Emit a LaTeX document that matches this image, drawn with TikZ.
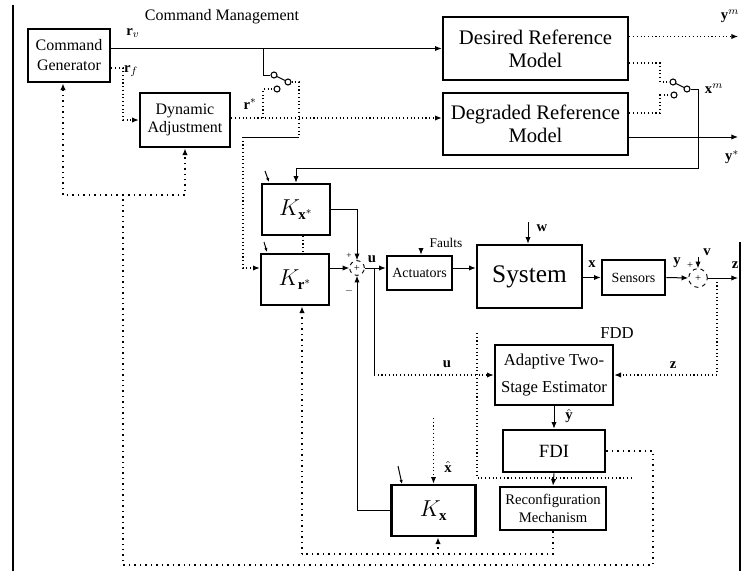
\documentclass[tikz,border=0pt]{standalone}
\usepackage{fontspec}
\setmainfont{Liberation Serif}
\usetikzlibrary{arrows.meta,calc}
\begin{document}
\begin{tikzpicture}[x=0.75pt,y=-0.75pt,
  box/.style={draw, line width=2pt, inner sep=1pt, align=center},
  ln/.style={line width=0.75pt},
  arr/.style={ln, -{Latex[length=5pt,width=4pt]}},
  dot/.style={line width=0.8pt, dotted},
  darr/.style={dot, -{Latex[length=5pt,width=4pt]}},
  bigdot/.style={line width=1.1pt, dash pattern=on 1.1pt off 3pt},
  bdarr/.style={bigdot, -{Latex[length=5pt,width=4pt]}},
  tiparr/.style={ln, -{Latex[length=3pt,width=2.5pt]}},
  sumc/.style={draw, circle, dashed, line width=0.7pt, inner sep=0pt, font=\fontsize{8}{8}\selectfont},
  lab/.style={font=\fontsize{11}{12}\selectfont\bfseries, inner sep=0pt},
  contact/.style={draw, circle, line width=0.8pt, minimum size=4.5pt, inner sep=0pt},
]
\useasboundingbox (0,0) rectangle (742,571);
\fill[white] (0,0) rectangle (742,571);

% frame pieces
\draw[line width=1.2pt] (13,5) -- (13,571);
\draw[line width=1.2pt] (740,242) -- (740,571);

% boxes
\node[box, minimum width=61.5pt, minimum height=39.75pt, font=\fontsize{12}{15}\selectfont] (cg) at (69,55.5) {Command\\Generator};
\node[box, minimum width=67.5pt, minimum height=40.5pt, font=\fontsize{12}{13}\selectfont] (da) at (185,120) {Dynamic\\Adjustment};
\node[box, minimum width=138.75pt, minimum height=47.25pt, font=\fontsize{15.5}{17}\selectfont] (drm) at (535.5,48.5) {Desired Reference\\Model};
\node[box, minimum width=138.75pt, minimum height=46.5pt, font=\fontsize{15.5}{17}\selectfont] (grm) at (535.5,124) {Degraded Reference\\Model};
\node[box, minimum width=51pt, minimum height=38.25pt, font=\fontsize{16}{17}\selectfont] (kxs) at (296,209.5) {$K_{\mathbf{x}^*}$};
\node[box, minimum width=51pt, minimum height=38.25pt, font=\fontsize{16}{17}\selectfont] (krs) at (295,279.5) {$K_{\mathbf{r}^*}$};
\node[box, minimum width=48.75pt, minimum height=25.5pt, font=\fontsize{10.5}{12}\selectfont] (act) at (419.5,273) {Actuators};
\node[box, minimum width=78.75pt, minimum height=47.25pt, font=\fontsize{19}{20}\selectfont] (sys) at (529.5,276.5) {System};
\node[box, minimum width=47.25pt, minimum height=26.25pt, font=\fontsize{10.5}{12}\selectfont] (sen) at (633.5,277.5) {Sensors};
\node[box, minimum width=88.5pt, minimum height=45pt, font=\fontsize{12.5}{20}\selectfont] (est) at (554,375) {Adaptive Two-\\Stage Estimator};
\node[box, minimum width=76.5pt, minimum height=31.5pt, font=\fontsize{14}{15}\selectfont] (fdi) at (554,451) {FDI};
\node[box, minimum width=79.5pt, minimum height=32.25pt, font=\fontsize{11}{13.5}\selectfont] (rec) at (553,508.5) {Reconfiguration\\Mechanism};
\node[box, minimum width=63pt, minimum height=38.25pt, font=\fontsize{16}{17}\selectfont] (kx) at (433.5,510.5) {$K_{\mathbf{x}}$};

% summing junctions
\node[sumc, minimum size=11pt] (s1) at (357,268) {+};
\node[sumc, minimum size=14pt] (s2) at (698,278) {+};

% switch contacts
\node[contact] (c1a) at (274,75) {};
\node[contact] (c1b) at (277,89) {};
\node[contact] (c1p) at (288,82) {};
\node[contact] (c2a) at (673,82) {};
\node[contact] (c2b) at (674,95) {};
\node[contact] (c2p) at (687,89) {};

% labels
\node[font=\fontsize{12}{13}\selectfont, inner sep=0pt] (cm) at (222,17) {Command Management};
\node[lab] (lrv) at (133,33) {$\mathbf{r}_{v}$};
\node[lab] (lrf) at (131,71) {$\mathbf{r}_{f}$};
\node[lab] (lrs) at (250,104) {$\mathbf{r}^{*}$};
\node[lab] (lym) at (730,16) {$\mathbf{y}^{m}$};
\node[lab] (lxm) at (714,89) {$\mathbf{x}^{m}$};
\node[lab] (lys) at (732,157) {$\mathbf{y}^{*}$};
\node[lab] (lu1) at (372,259) {$\mathbf{u}$};
\node[lab] (lu2) at (447,364) {$\mathbf{u}$};
\node[font=\fontsize{10}{11}\selectfont, inner sep=0pt] (lf) at (446,243) {Faults};
\node[lab] (lw) at (542,228) {$\mathbf{w}$};
\node[lab] (lx) at (592,264) {$\mathbf{x}$};
\node[lab] (ly) at (677,263) {$\mathbf{y}$};
\node[lab] (lv) at (707,252) {$\mathbf{v}$};
\node[font=\fontsize{8}{8}\selectfont, inner sep=0pt] (lp2) at (690,265) {+};
\node[lab] (lz1) at (735,265) {$\mathbf{z}$};
\node[lab] (lz2) at (673,365) {$\mathbf{z}$};
\node[font=\fontsize{12.5}{13}\selectfont, inner sep=0pt] (lfdd) at (617,333) {FDD};
\node[lab] (lyh) at (569,416) {$\hat{\mathbf{y}}$};
\node[lab] (lxh) at (448,467) {$\hat{\mathbf{x}}$};
\node[font=\fontsize{7}{7}\selectfont, inner sep=0pt] (lp1) at (349,256) {+};
\node[font=\fontsize{7}{7}\selectfont, inner sep=0pt] (lm1) at (349,291) {$-$};

% command management
\draw[arr] (cg.east |- drm.west) -- (drm.west);
\draw[darr] ($(cg.east)+(0,12.5)$) -- (123,68) -- (123,120) -- (da.west);
\draw[darr] ($(da.east)+(0,-2)$) -- ($(grm.west)+(0,-6)$);

% switch 1
\draw[ln] (263,48.5) -- (263,75) -- (c1a);
\draw[dot] (263,118) -- (263,89) -- (c1b);
\draw[ln] (c1p) -- (c1a);
\draw[dot] (c1p) -- (299,82) -- (299,137);
\draw[ln] (299,137) -- (243,137);
\draw[darr] (243,137) -- (243,268) -- ($(krs.west)+(0,-11.5)$);

% switch 2 and reference model outputs
\draw[dot] ($(drm.east)+(0,14.5)$) -- (660,63) -- (660,82) -- (c2a);
\draw[dot] ($(grm.east)+(0,-11)$) -- (660,113) -- (660,95) -- (c2b);
\draw[ln] (c2p) -- (c2a);
\draw[arr] (c2p) -- (698,89) -- (698,168) -- (kxs.north |- 0,168) -- (kxs.north);
\draw[darr] ($(drm.east)+(0,-12)$) -- (738,36.5);
\draw[arr] ($(grm.east)+(0,13)$) -- (738,137);

% controller
\draw[arr] (kxs.east) -- (s1 |- kxs.east) -- (s1.north);
\draw[arr] ($(krs.east)+(0,-11.5)$) -- (s1.west);
\draw[arr] (kx.west) -- (s1 |- kx.west) -- (s1.south);
\draw[arr] (s1.east) -- (act.west |- s1);
\draw[ln] (374,268) -- (374,375);
\draw[darr] (374,375) -- (est.west);
\draw[tiparr] (265,171) -- (269,182);
\draw[tiparr] (264,242) -- (267,252);
\draw[tiparr] (398,466) -- (402,484);
\draw[dot] (303,236) -- (303,253);

% plant
\draw[arr] (act.east |- s1) -- (sys.west |- s1);
\draw[arr] (sys.east |- sen.west) -- (sen.west);
\draw[arr] (sen.east) -- (s2.west);
\draw[arr] (s2.east) -- (738,278);
\draw[arr] (698,257) -- (s2.north);
\draw[arr] (528,222) -- (sys.north -| 528,0);
\draw[arr] (421,249) -- (act.north -| 421,0);
\draw[darr] (717,278) -- (717,375) -- (est.east);

% FDD
\draw[arr] (est.south) -- (fdi.north);
\draw[arr] (fdi.south) -- (rec.north);
\draw[bigdot] (fdi.east) -- (653,451) -- (653,565) -- (123,565) -- (123,195);
\draw[bdarr] (123,195) -- (63,195) -- ($(cg.south)+(-6,0)$);
\draw[bdarr] (123,195) -- (185,195) -- (da.south);
\draw[bigdot] (rec.south) -- (553,554) -- (302,554);
\draw[bdarr] (302,554) -- ($(krs.south)+(7,0)$);
\draw[bdarr] (438,554) -- ($(kx.south)+(4.5,0)$);
\draw[darr] (433.5,418) -- (kx.north);
\draw[dot] (477,333) -- (477,478) -- (633,478);
\end{tikzpicture}
\end{document}
